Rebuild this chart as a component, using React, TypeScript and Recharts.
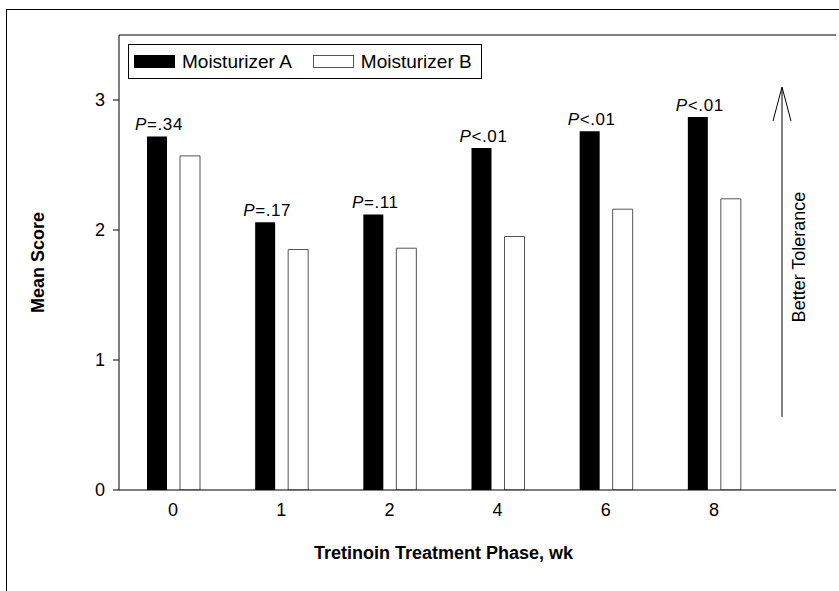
import { BarChart, Bar, XAxis, YAxis, Legend, LabelList, ReferenceLine, Customized } from "recharts";

const weeks = ["0", "1", "2", "4", "6", "8"];
const moisturizerA = [2.72, 2.06, 2.12, 2.63, 2.76, 2.87];
const moisturizerB = [2.57, 1.85, 1.86, 1.95, 2.16, 2.24];
const pValues = ["=.34", "=.17", "=.11", "<.01", "<.01", "<.01"];
const yTicks = [0, 1, 2, 3];

const data = weeks.map((w, i) => ({
  week: w,
  a: moisturizerA[i],
  b: moisturizerB[i],
  p: pValues[i],
}));

const FONT = "'Liberation Sans', Arial, Helvetica, sans-serif";

const PLabel = (props: any) => {
  const { x, y, width, value } = props;
  return (
    <text
      x={x + width / 2 + 2}
      y={y - 6}
      textAnchor="middle"
      fontSize={17}
      letterSpacing={0.6}
      fontFamily={FONT}
      fill="#000"
    >
      <tspan fontStyle="italic">P</tspan>
      <tspan>{value}</tspan>
    </text>
  );
};

const LegendBox = () => (
  <div
    style={{
      border: "1px solid #000",
      width: 354,
      height: 35,
      display: "flex",
      alignItems: "center",
      fontFamily: FONT,
      fontSize: 19,
      color: "#000",
      boxSizing: "border-box",
      background: "#fff",
    }}
  >
    <span style={{ display: "inline-block", width: 41, height: 13, background: "#000", marginLeft: 5 }} />
    <span style={{ marginLeft: 7 }}>Moisturizer A</span>
    <span
      style={{
        display: "inline-block",
        width: 39,
        height: 11,
        border: "1px solid #555",
        background: "#fff",
        marginLeft: 21,
      }}
    />
    <span style={{ marginLeft: 7 }}>Moisturizer B</span>
  </div>
);

// arrow + "Better Tolerance" annotation on the right side
const ToleranceArrow = () => (
  <g>
    <line x1={782} y1={88} x2={782} y2={417} stroke="#000" strokeWidth={1} />
    <polyline points="773,121 782,87 791,121" fill="none" stroke="#000" strokeWidth={1} />
    <text
      x={799}
      y={257}
      transform="rotate(-90 799 257)"
      textAnchor="middle"
      dominantBaseline="central"
      fontSize={18}
      fontFamily={FONT}
      fill="#000"
    >
      Better Tolerance
    </text>
  </g>
);

const XTitle = (props: any) => {
  const { viewBox } = props;
  const cx = viewBox.x + (viewBox.width - 68) / 2;
  return (
    <text x={cx} y={viewBox.y + 69} textAnchor="middle" fontSize={18} fontWeight="bold" fontFamily={FONT} fill="#000">
      Tretinoin Treatment Phase, wk
    </text>
  );
};

export default function App() {
  return (
    <div style={{ position: "absolute", left: 0, top: 0, width: 839, height: 591, overflow: "hidden", background: "#fff" }}>
      <div
        style={{
          position: "absolute",
          left: 6,
          top: 9,
          width: 900,
          height: 700,
          border: "1px solid #000",
          boxSizing: "border-box",
        }}
      />
      <div style={{ position: "absolute", left: 0, top: 0 }}>
        <BarChart
          width={839}
          height={591}
          data={data}
          margin={{ top: 35, right: 3, left: 0, bottom: 0 }}
          barSize={20}
          barGap={13}
        >
          <XAxis
            dataKey="week"
            height={101}
            padding={{ left: 0, right: 68 }}
            axisLine={{ stroke: "#000", strokeWidth: 1 }}
            tickLine={false}
            tick={{ fontSize: 18, fill: "#000", fontFamily: FONT }}
            tickMargin={7}
            label={<XTitle />}
          />
          <YAxis
            width={119}
            domain={[0, 3.5]}
            ticks={yTicks}
            allowDataOverflow
            axisLine={{ stroke: "#000", strokeWidth: 1 }}
            tickLine={{ stroke: "#000" }}
            tickSize={6}
            tickMargin={8}
            tick={{ fontSize: 18, fill: "#000", fontFamily: FONT }}
            label={{
              value: "Mean Score",
              angle: -90,
              position: "insideLeft",
              dx: 33,
              style: { fontSize: 18, fontWeight: "bold", fontFamily: FONT, fill: "#000", textAnchor: "middle" },
            }}
          />
          <YAxis
            yAxisId="frame"
            orientation="right"
            width={0}
            tick={false}
            tickLine={false}
            axisLine={{ stroke: "#000", strokeWidth: 1 }}
          />
          <ReferenceLine y={3.5} stroke="#000" strokeWidth={1} ifOverflow="extendDomain" />
          <Legend
            layout="horizontal"
            verticalAlign="middle"
            align="center"
            wrapperStyle={{ top: 44, left: 128, width: 354 }}
            content={<LegendBox />}
          />
          <Bar dataKey="a" name="Moisturizer A" fill="#000" isAnimationActive={false}>
            <LabelList dataKey="p" content={<PLabel />} />
          </Bar>
          <Bar dataKey="b" name="Moisturizer B" fill="#fff" stroke="#555" strokeWidth={1} isAnimationActive={false} />
          <Customized component={<ToleranceArrow />} />
        </BarChart>
      </div>
    </div>
  );
}
